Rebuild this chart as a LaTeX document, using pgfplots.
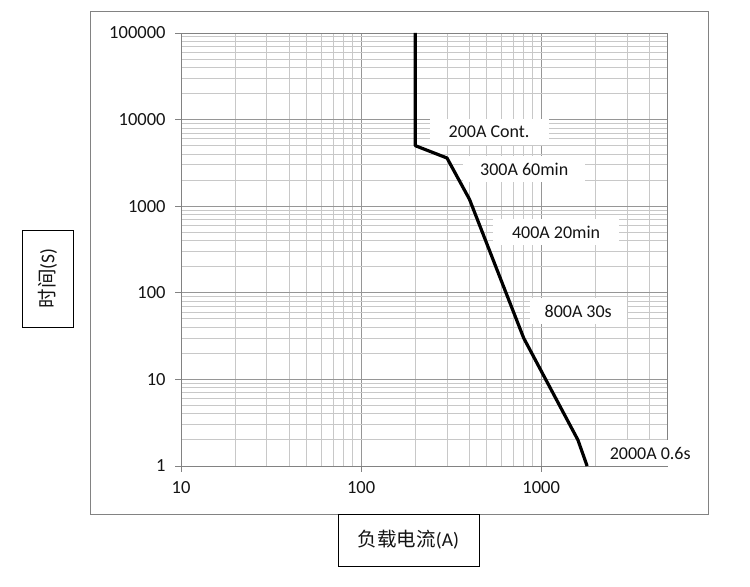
\documentclass[border=0pt]{standalone}
\usepackage{pgfplots}
\pgfplotsset{compat=1.18}
\usepackage{fontspec}
\setmainfont{Carlito}
\newfontfamily\cjk{Noto Sans CJK SC}
\definecolor{txt}{RGB}{20,20,20}
\definecolor{frame}{RGB}{130,130,130}
\definecolor{majg}{RGB}{150,150,150}
\definecolor{ming}{RGB}{200,200,200}
\begin{document}
\begin{tikzpicture}[x=1bp,y=1bp]
\path[use as bounding box] (0,0) rectangle (750,587);
\draw[frame, line width=1bp] (90,72) rectangle (708,575);
\node[draw=black, line width=0.8bp, rotate=90, minimum width=97bp, minimum height=51bp, text=txt,
  font=\fontsize{19.5bp}{22bp}\selectfont] at (47.5,308.5) {{\cjk 时间}(S)};
\node[draw=black, line width=0.8bp, fill=white, minimum width=141bp, minimum height=52bp, text=txt,
  font=\fontsize{19.5bp}{22bp}\selectfont] at (408.5,47) {{\cjk 负载电流}(A)};
\begin{axis}[
  at={(181bp,121bp)}, anchor=south west,
  scale only axis, width=486bp, height=433bp,
  xmode=log, ymode=log,
  xmin=10, xmax=5000, ymin=1, ymax=100000,
  xtick={10,100,1000}, xticklabels={10,100,1000},
  ytick={1,10,100,1000,10000,100000}, yticklabels={1,10,100,1000,10000,100000},
  minor xtick={20,30,40,50,60,70,80,90,200,300,400,500,600,700,800,900,2000,3000,4000,5000},
  minor ytick={2,3,4,5,6,7,8,9,20,30,40,50,60,70,80,90,200,300,400,500,600,700,800,900,
    2000,3000,4000,5000,6000,7000,8000,9000,20000,30000,40000,50000,60000,70000,80000,90000},
  grid=both,
  major grid style={draw=majg, line width=0.9bp},
  minor grid style={draw=ming, line width=0.9bp},
  axis line style={draw=frame, line width=0.9bp},
  tick style={draw=frame, line width=0.9bp},
  tick align=outside, major tick length=6bp, minor tick length=0pt,
  xtick pos=left, ytick pos=left,
  ticklabel style={text=txt, font=\fontsize{18.5bp}{20bp}\selectfont},
  yticklabel style={xshift=-6bp},
  xticklabel style={yshift=-6bp},
  clip=false,
]
\addplot[black, line width=3.2bp, line join=round] coordinates {
  (200,100000) (200,5000) (300,3600) (400,1200) (800,30) (1600,2) (1800,1)
};
\tikzset{lab/.style={fill=white, text=txt, inner ysep=0pt, minimum height=26bp, font=\fontsize{18bp}{20bp}\selectfont}}
\node[lab, inner xsep=19bp] at (axis cs:514,7200) {200A Cont.};
\node[lab, inner xsep=17bp] at (axis cs:805,2690) {300A 60min};
\node[lab, inner xsep=19bp] at (axis cs:1211,504) {400A 20min};
\node[lab, inner xsep=15bp] at (axis cs:1606,61.6) {800A 30s};
\node[lab, inner xsep=14bp] at (axis cs:4033,1.41) {2000A 0.6s};
\end{axis}
\end{tikzpicture}
\end{document}
